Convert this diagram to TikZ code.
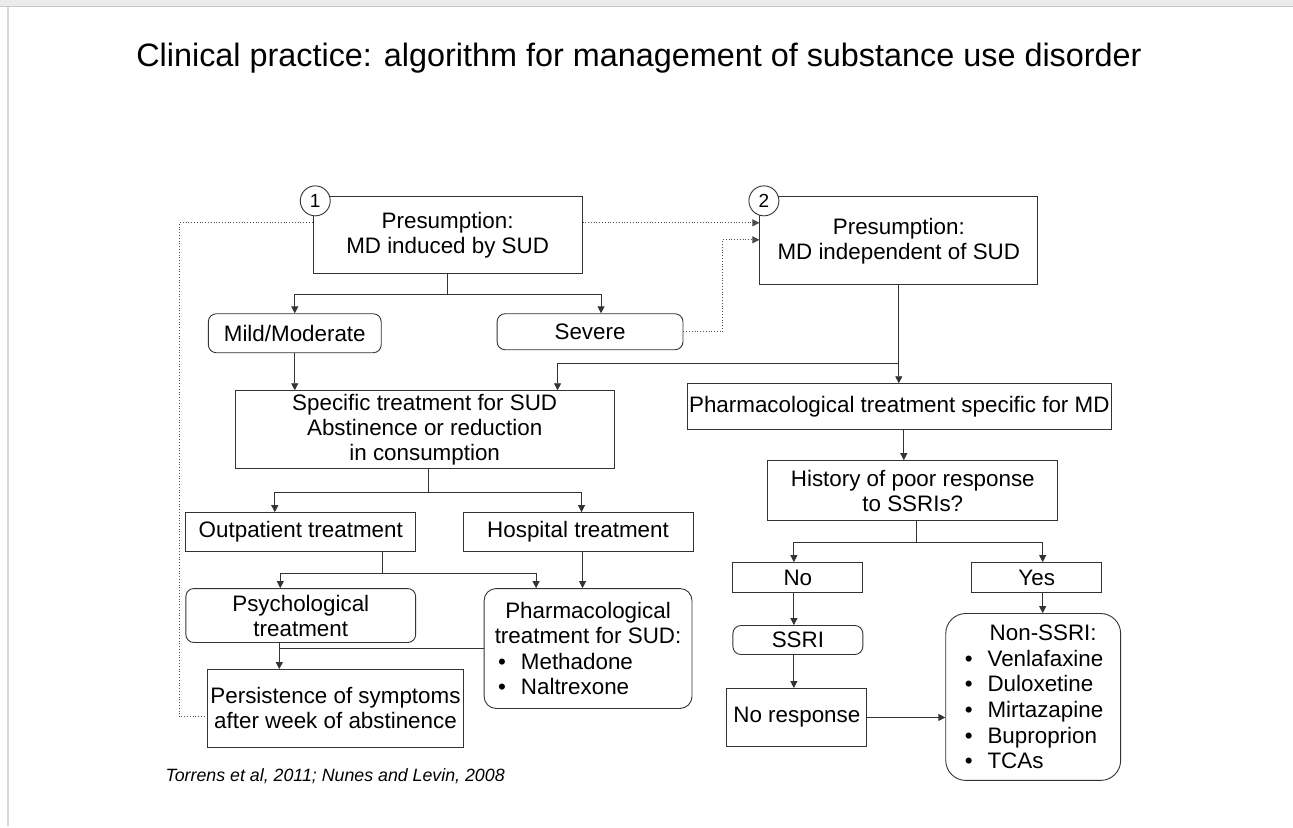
\documentclass[tikz,border=0pt]{standalone}
\usepackage{fontspec}
\setmainfont{Liberation Sans}
\usetikzlibrary{arrows.meta}

\begin{document}
\begin{tikzpicture}[x=1pt,y=-1pt,
  box/.style={draw=black!80,line width=0.9pt,inner sep=0pt,align=center,font=\fontsize{22.4}{25}\selectfont},
  rbox/.style={box,rounded corners=8pt},
  num/.style={draw=black!80,line width=0.9pt,fill=white,circle,minimum size=30pt,inner sep=0pt,font=\fontsize{19}{22}\selectfont},
  link/.style={draw=black!80,line width=0.9pt},
  arr/.style={link,-{Triangle[length=7pt,width=7pt]}},
  dots/.style={draw=black!70,line width=0.8pt,dotted},
  dotarr/.style={dots,-{Triangle[length=7pt,width=7pt]}}]
\fill[white] (0,0) rectangle (1293,827);
\fill[black!8] (0,0) rectangle (1293,6);
\draw[black!22,line width=1pt] (0,6.5) -- (1293,6.5);
\draw[black!15,line width=2pt] (8,7) -- (8,827);

\node[font=\fontsize{32.4}{38}\selectfont,anchor=base] (title) at (639,67) {Clinical practice: algorithm for management of substance use disorder};

\node[box,minimum width=269pt,minimum height=77pt] (induced) at (447.5,235.5) {Presumption:\\MD induced by SUD};
\node[num] (one) at (315,201) {1};
\node[box,minimum width=278pt,minimum height=88pt] (independent) at (899,241) {Presumption:\\MD independent of SUD};
\node[num] (two) at (764,201) {2};
\node[rbox,minimum width=173pt,minimum height=39pt] (mild) at (294.5,333.5) {Mild/Moderate};
\node[rbox,minimum width=186pt,minimum height=36pt] (severe) at (590,332) {Severe};
\node[box,minimum width=379pt,minimum height=78pt] (specific) at (424.5,430) {Specific treatment for SUD\\Abstinence or reduction\\in consumption};
\node[box,minimum width=425pt,minimum height=46pt] (pharmmd) at (899.5,407) {Pharmacological treatment specific for MD};
\node[box,minimum width=290pt,minimum height=60pt] (history) at (913,491) {History of poor response\\to SSRIs?};
\node[box,minimum width=130pt,minimum height=30pt] (no) at (798,578) {No};
\node[box,minimum width=130pt,minimum height=30pt] (yes) at (1037,578) {Yes};
\node[rbox,minimum width=130pt,minimum height=29pt] (ssri) at (798,640.5) {SSRI};
\node[box,minimum width=140pt,minimum height=58pt] (noresp) at (797,718) {No response};
\node[rbox,rounded corners=20pt,minimum width=175pt,minimum height=167pt,font=\fontsize{22.4}{25.6}\selectfont] (nonssri) at (1033.5,697.5) {\makebox[137pt]{\hspace{20pt}Non-SSRI:}\\
  \makebox[137pt][l]{\textbullet\hspace{15pt}Venlafaxine}\\
  \makebox[137pt][l]{\textbullet\hspace{15pt}Duloxetine}\\
  \makebox[137pt][l]{\textbullet\hspace{15pt}Mirtazapine}\\
  \makebox[137pt][l]{\textbullet\hspace{15pt}Buproprion}\\
  \makebox[137pt][l]{\textbullet\hspace{15pt}TCAs}};
\node[box,minimum width=230pt,minimum height=39pt] (outpatient) at (300.5,532.5) {Outpatient treatment};
\node[box,minimum width=230pt,minimum height=39pt] (hospital) at (578,532.5) {Hospital treatment};
\node[rbox,minimum width=230pt,minimum height=54pt] (psych) at (300.5,616) {Psychological\\treatment};
\node[rbox,rounded corners=12pt,minimum width=208pt,minimum height=120pt,font=\fontsize{22.4}{25.3}\selectfont] (pharmsud) at (588,649) {Pharmacological\\treatment for SUD:\\
  \makebox[180pt][l]{\textbullet\hspace{15pt}Methadone}\\
  \makebox[180pt][l]{\textbullet\hspace{15pt}Naltrexone}};
\node[box,minimum width=255.5pt,minimum height=78pt] (persist) at (335.25,709) {Persistence of symptoms\\after week of abstinence};

\node[font=\fontsize{17.8}{21}\selectfont\itshape,anchor=base west,inner sep=0pt] (source) at (165,782) {Torrens et al, 2011; Nunes and Levin, 2008};

\draw[link] (induced.south) -- ++(0,20) coordinate (fa);
\draw[arr] (fa) -| (mild.north);
\draw[arr] (fa) -| ([xshift=11pt]severe.north);
\draw[arr] (mild.south) -- (mild.south |- specific.north);
\draw[link] (independent.south) -- ++(0,78) coordinate (fb);
\draw[arr] (fb) -| ([xshift=133pt]specific.north);
\draw[arr] (fb) -- (fb |- pharmmd.north);
\draw[arr] ([xshift=4.5pt]pharmmd.south) -- ([xshift=4.5pt]pharmmd.south |- history.north);
\draw[link] ([xshift=4pt]history.south) -- ++(0,21) coordinate (fc);
\draw[arr] (fc) -| ([xshift=-4pt]no.north);
\draw[arr] (fc) -| ([xshift=6pt]yes.north);
\draw[arr] ([xshift=-4pt]no.south) -- ([xshift=-4pt]no.south |- ssri.north);
\draw[arr] ([xshift=-4pt]ssri.south) -- ([xshift=-4pt]ssri.south |- noresp.north);
\draw[arr] (noresp.east) -- (noresp.east -| nonssri.west);
\draw[arr] ([xshift=6pt]yes.south) -- ([xshift=6pt]yes.south |- nonssri.north);
\draw[link] ([xshift=3.5pt]specific.south) -- ++(0,23) coordinate (fd);
\draw[arr] (fd) -| ([xshift=-26pt]outpatient.north);
\draw[arr] (fd) -| ([xshift=3.5pt]hospital.north);
\draw[link] ([xshift=81.5pt]outpatient.south) -- ++(0,21) coordinate (fe);
\draw[arr] (fe) -| ([xshift=-20.5pt]psych.north);
\draw[arr] (fe) -| ([xshift=-52pt]pharmsud.north);
\draw[arr] ([xshift=4.5pt]hospital.south) -- ([xshift=4.5pt]hospital.south |- pharmsud.north);
\coordinate (pj) at ([xshift=-21.5pt]psych.south);
\draw[arr] (pj) -- (pj |- persist.north);
\draw[link] (pharmsud.west) -- (pharmsud.west -| pj);

\draw[dots] ([yshift=-8pt]persist.west) -- ++(-28.5,0) |- ([yshift=12.5pt]induced.west);
\draw[dotarr] ([yshift=12.5pt]induced.east) -- ([yshift=18pt]independent.west);
\draw[dotarr] (severe.east) -- ++(39,0) |- ([yshift=1pt]independent.west);
\end{tikzpicture}
\end{document}
